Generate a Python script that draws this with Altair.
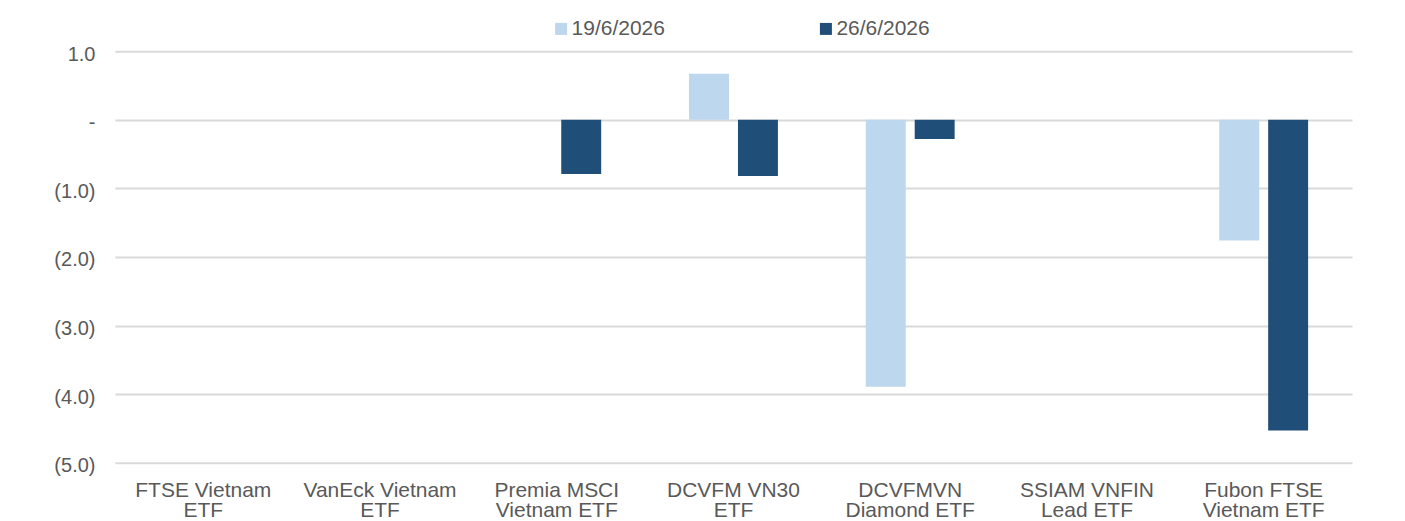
import altair as alt
import pandas as pd

categories = [
    "FTSE Vietnam|ETF",
    "VanEck Vietnam|ETF",
    "Premia MSCI|Vietnam ETF",
    "DCVFM VN30|ETF",
    "DCVFMVN|Diamond ETF",
    "SSIAM VNFIN|Lead ETF",
    "Fubon FTSE|Vietnam ETF",
]
series_names = ["19/6/2026", "26/6/2026"]
values_19_6 = [None, None, None, 0.67, -3.89, None, -1.76]
values_26_6 = [None, None, -0.79, -0.82, -0.28, None, -4.53]
colors = ["#BDD7EE", "#1F4E79"]

rows = []
for c, v1, v2 in zip(categories, values_19_6, values_26_6):
    rows.append({"cat": c, "series": series_names[0], "value": v1})
    rows.append({"cat": c, "series": series_names[1], "value": v2})
df = pd.DataFrame(rows)

text_color = "#595959"

bars = alt.Chart(df).mark_bar().encode(
    x=alt.X(
        "cat:N",
        sort=categories,
        scale=alt.Scale(domain=categories, paddingInner=0, paddingOuter=0),
        axis=alt.Axis(
            title=None,
            labelAngle=0,
            labelExpr="split(datum.label, '|')",
            labelFont="Liberation Sans",
            labelFontSize=21,
            labelColor=text_color,
            labelLineHeight=20,
            labelPadding=17,
            labelBaseline="top",
            ticks=False,
            domain=False,
            grid=False,
            labelLimit=300,
        ),
    ),
    xOffset=alt.XOffset(
        "series:N",
        sort=series_names,
        scale=alt.Scale(domain=series_names, paddingInner=0.1837, paddingOuter=0.898),
    ),
    y=alt.Y(
        "value:Q",
        scale=alt.Scale(domain=[-5, 1], nice=False),
        axis=alt.Axis(
            title=None,
            values=[1, 0, -1, -2, -3, -4, -5],
            labelExpr="datum.value == 0 ? '-' : (datum.value < 0 ? '(' + format(-datum.value, '.1f') + ')' : format(datum.value, '.1f'))",
            labelFont="Liberation Sans",
            labelFontSize=20,
            labelColor=text_color,
            labelPadding=20,
            labelOffset=3,
            ticks=False,
            domain=False,
            grid=True,
            gridColor="#D9D9D9",
            gridWidth=2,
        ),
    ),
    color=alt.Color(
        "series:N",
        sort=series_names,
        scale=alt.Scale(domain=series_names, range=colors),
        legend=alt.Legend(
            title=None,
            orient="none",
            direction="horizontal",
            legendX=436,
            legendY=-33,
            symbolType="square",
            symbolSize=144,
            symbolStrokeWidth=0,
            labelFont="Liberation Sans",
            labelFontSize=21,
            labelColor=text_color,
            labelOffset=0,
            columnPadding=150,
        ),
    ),
)

top_line = alt.Chart(alt.Data(values=[{"a": 1}])).mark_rule(
    color="#4F81BD", strokeWidth=2.5
).encode(
    x=alt.value(-108),
    x2=alt.value(1283),
    y=alt.value(-45),
)

chart = alt.layer(bars, top_line).properties(
    width=1238,
    height=412,
    padding={"left": 107, "top": 43, "right": 45, "bottom": 58},
    autosize=alt.AutoSizeParams(type="none"),
).configure_view(stroke=None)

chart.save("out.html", embed_options={"renderer": "svg", "actions": False})
